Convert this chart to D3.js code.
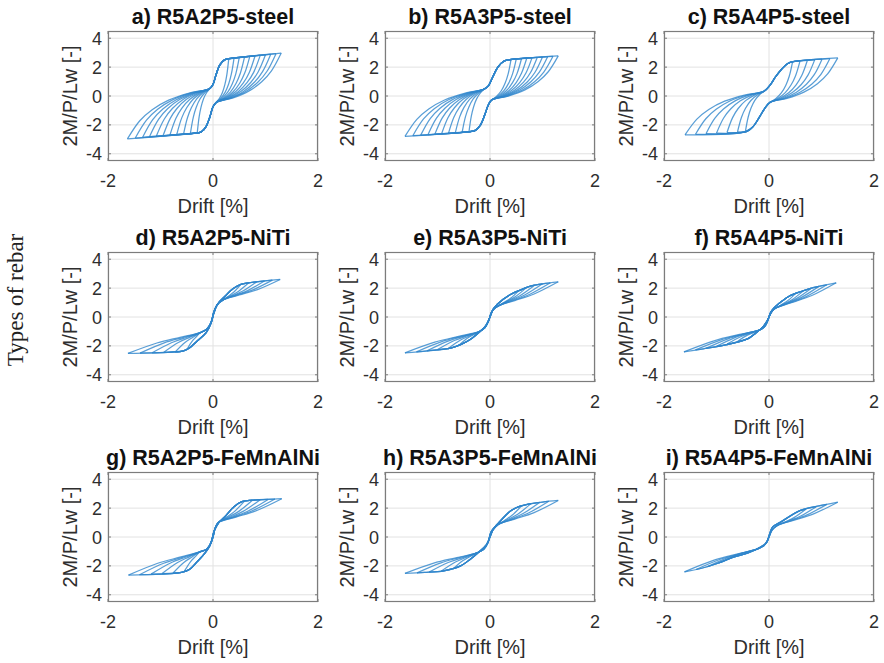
<!DOCTYPE html>
<html><head><meta charset="utf-8">
<script src="https://cdn.jsdelivr.net/npm/d3@7"></script>
<style>body{margin:0;background:#fff}svg{display:block}</style>
</head><body>
<svg id="chart" width="884" height="663"></svg>
<script>
// ---------- labels / ticks ----------
const titles = ["a) R5A2P5-steel","b) R5A3P5-steel","c) R5A4P5-steel",
                "d) R5A2P5-NiTi","e) R5A3P5-NiTi","f) R5A4P5-NiTi",
                "g) R5A2P5-FeMnAlNi","h) R5A3P5-FeMnAlNi","i) R5A4P5-FeMnAlNi"];
const xTicks = [-2, 0, 2];
const yTicks = [-4, -2, 0, 2, 4];
const xDomain = [-2, 2];
const yDomain = [-4.5, 4.5];
const xLabel = "Drift [%]";
const yLabel = "2M/P/Lw [-]";
const rowLabel = "Types of rebar";

// ---------- return-branch shapes (normalised, read from outer loops) ----------
const steelReturn = [[0,0],[0.15,0.36],[0.3,0.58],[0.5,0.77],[0.75,0.91],[1,1]];
const flagReturn  = [[0,0],[0.4,0.5],[0.72,0.77],[1,1]];

// ---------- a) R5A2P5-steel ----------
const aPosDrift  = [0.30,0.40,0.50,0.60,0.70,0.80,0.90,1.00,1.10,1.20,1.30];
const aPosMoment = [2.57,2.61,2.65,2.69,2.73,2.77,2.81,2.85,2.89,2.93,2.97];
const aNegDrift  = [-0.30,-0.43,-0.56,-0.69,-0.82,-0.95,-1.08,-1.21,-1.34,-1.48,-1.63];
const aNegMoment = [-2.55,-2.58,-2.62,-2.66,-2.70,-2.74,-2.78,-2.82,-2.86,-2.91,-2.97];
const aLoadUp    = [[-0.06,0.52],[0.0,0.8],[0.06,1.5],[0.13,2.15],[0.22,2.5],[0.3,2.58],[1.3,2.97]];
const aLoadDown  = [[0.06,-0.45],[0.0,-0.75],[-0.06,-1.45],[-0.13,-2.1],[-0.22,-2.48],[-0.3,-2.56],[-1.63,-2.97]];

// ---------- b) R5A3P5-steel ----------
const bPosDrift  = [0.40,0.50,0.60,0.70,0.80,0.90,1.00,1.10,1.20,1.30];
const bPosMoment = [2.52,2.55,2.58,2.61,2.64,2.67,2.70,2.73,2.75,2.78];
const bNegDrift  = [-0.40,-0.53,-0.66,-0.79,-0.92,-1.05,-1.18,-1.32,-1.47,-1.62];
const bNegMoment = [-2.47,-2.50,-2.53,-2.57,-2.60,-2.64,-2.67,-2.71,-2.75,-2.80];
const bLoadUp    = [[-0.11,0.48],[-0.03,0.7],[0.05,1.3],[0.15,2.0],[0.27,2.42],[0.38,2.52],[1.3,2.78]];
const bLoadDown  = [[0.03,-0.28],[-0.03,-0.6],[-0.1,-1.3],[-0.18,-2.0],[-0.28,-2.38],[-0.38,-2.46],[-1.62,-2.8]];

// ---------- c) R5A4P5-steel ----------
const cPosDrift  = [0.45,0.59,0.73,0.87,1.01,1.16,1.31];
const cPosMoment = [2.38,2.42,2.46,2.50,2.55,2.59,2.64];
const cNegDrift  = [-0.45,-0.60,-0.80,-1.00,-1.20,-1.40,-1.60];
const cNegMoment = [-2.46,-2.49,-2.53,-2.57,-2.61,-2.65,-2.69];
const cLoadUp    = [[-0.09,0.34],[0.02,0.75],[0.12,1.3],[0.24,1.85],[0.36,2.25],[0.46,2.38],[1.31,2.64]];
const cLoadDown  = [[0.02,-0.44],[-0.08,-0.85],[-0.18,-1.45],[-0.3,-2.1],[-0.42,-2.45],[-1.6,-2.69]];

// ---------- d) R5A2P5-NiTi ----------
const dPosDrift  = [0.53,0.68,0.83,0.98,1.13,1.28];
const dPosMoment = [2.26,2.37,2.43,2.49,2.55,2.60];
const dNegDrift  = [-0.50,-0.72,-0.94,-1.16,-1.39,-1.62];
const dNegMoment = [-2.27,-2.42,-2.45,-2.48,-2.50,-2.52];
const dLoadUp    = [[-0.24,-1.08],[-0.12,-0.85],[-0.04,-0.4],[0.02,0.4],[0.1,0.95],[0.22,1.4],[0.38,1.95],[0.52,2.25],[0.65,2.35],[1.28,2.6]];
const dLoadDown  = [[0.2,1.2],[0.08,0.85],[0.02,0.3],[-0.04,-0.45],[-0.13,-1.08],[-0.3,-1.66],[-0.45,-2.15],[-0.56,-2.34],[-0.8,-2.43],[-1.62,-2.52]];

// ---------- e) R5A3P5-NiTi ----------
const ePosDrift  = [0.55,0.70,0.85,1.00,1.15,1.30];
const ePosMoment = [1.83,2.05,2.20,2.30,2.37,2.44];
const eNegDrift  = [-0.60,-0.80,-1.00,-1.20,-1.40,-1.62];
const eNegMoment = [-1.98,-2.19,-2.26,-2.34,-2.41,-2.48];
const eLoadUp    = [[-0.2,-1.0],[-0.1,-0.75],[-0.03,-0.3],[0.03,0.35],[0.14,0.88],[0.39,1.56],[0.6,1.9],[0.77,2.14],[1.0,2.3],[1.3,2.44]];
const eLoadDown  = [[0.15,0.75],[0.06,0.5],[0.0,0.0],[-0.08,-0.6],[-0.18,-0.97],[-0.37,-1.54],[-0.55,-1.9],[-0.75,-2.16],[-1.19,-2.34],[-1.62,-2.48]];

// ---------- f) R5A4P5-NiTi ----------
const fPosDrift  = [0.50,0.65,0.80,0.95,1.10,1.28];
const fPosMoment = [1.60,1.79,1.98,2.12,2.23,2.37];
const fNegDrift  = [-0.60,-0.80,-1.00,-1.20,-1.40,-1.62];
const fNegMoment = [-1.70,-1.88,-2.03,-2.17,-2.28,-2.41];
const fLoadUp    = [[-0.15,-0.85],[-0.07,-0.6],[-0.02,-0.2],[0.03,0.3],[0.1,0.64],[0.25,1.1],[0.39,1.45],[0.6,1.75],[0.84,2.03],[1.28,2.37]];
const fLoadDown  = [[0.12,0.6],[0.05,0.35],[0.0,0.0],[-0.05,-0.35],[-0.12,-0.7],[-0.25,-1.1],[-0.4,-1.5],[-0.85,-1.95],[-1.25,-2.2],[-1.62,-2.41]];

// ---------- g) R5A2P5-FeMnAlNi ----------
const gPosDrift  = [0.60,0.75,0.90,1.05,1.18,1.31];
const gPosMoment = [2.48,2.55,2.58,2.60,2.63,2.65];
const gNegDrift  = [-0.55,-0.76,-0.97,-1.18,-1.40,-1.61];
const gNegMoment = [-2.40,-2.49,-2.53,-2.57,-2.61,-2.64];
const gLoadUp    = [[-0.25,-1.03],[-0.12,-0.85],[-0.04,-0.4],[0.02,0.4],[0.1,0.95],[0.25,1.5],[0.4,2.1],[0.55,2.45],[0.7,2.53],[1.31,2.65]];
const gLoadDown  = [[0.1,1.0],[0.04,0.6],[0.0,0.0],[-0.06,-0.6],[-0.15,-1.1],[-0.3,-1.7],[-0.45,-2.25],[-0.6,-2.45],[-1.61,-2.64]];

// ---------- h) R5A3P5-FeMnAlNi ----------
const hPosDrift  = [0.60,0.78,0.95,1.12,1.30];
const hPosMoment = [2.15,2.31,2.40,2.47,2.53];
const hNegDrift  = [-0.70,-0.93,-1.16,-1.39,-1.62];
const hNegMoment = [-2.20,-2.37,-2.43,-2.48,-2.52];
const hLoadUp    = [[-0.25,-1.1],[-0.12,-0.85],[-0.04,-0.4],[0.02,0.35],[0.14,0.88],[0.39,1.8],[0.55,2.1],[0.71,2.26],[1.0,2.42],[1.3,2.53]];
const hLoadDown  = [[0.15,0.85],[0.06,0.5],[0.0,0.0],[-0.07,-0.55],[-0.2,-1.0],[-0.38,-1.55],[-0.56,-2.0],[-0.88,-2.34],[-1.25,-2.45],[-1.62,-2.52]];

// ---------- i) R5A4P5-FeMnAlNi ----------
const iPosDrift  = [0.70,0.90,1.10,1.31];
const iPosMoment = [1.92,2.10,2.26,2.41];
const iNegDrift  = [-0.95,-1.17,-1.39,-1.61];
const iNegMoment = [-1.80,-2.05,-2.25,-2.41];
const iLoadUp    = [[-0.2,-0.8],[-0.1,-0.6],[-0.03,-0.25],[0.02,0.3],[0.07,0.7],[0.22,1.03],[0.6,1.84],[0.95,2.15],[1.31,2.41]];
const iLoadDown  = [[0.16,0.8],[0.06,0.5],[0.0,0.0],[-0.05,-0.4],[-0.16,-0.69],[-0.4,-1.1],[-0.66,-1.38],[-1.0,-1.85],[-1.3,-2.18],[-1.61,-2.41]];

// ---------- table built from the arrays ----------
const panels = [
  [aPosDrift,aPosMoment,aNegDrift,aNegMoment,aLoadUp,aLoadDown,steelReturn],
  [bPosDrift,bPosMoment,bNegDrift,bNegMoment,bLoadUp,bLoadDown,steelReturn],
  [cPosDrift,cPosMoment,cNegDrift,cNegMoment,cLoadUp,cLoadDown,steelReturn],
  [dPosDrift,dPosMoment,dNegDrift,dNegMoment,dLoadUp,dLoadDown,flagReturn],
  [ePosDrift,ePosMoment,eNegDrift,eNegMoment,eLoadUp,eLoadDown,flagReturn],
  [fPosDrift,fPosMoment,fNegDrift,fNegMoment,fLoadUp,fLoadDown,flagReturn],
  [gPosDrift,gPosMoment,gNegDrift,gNegMoment,gLoadUp,gLoadDown,flagReturn],
  [hPosDrift,hPosMoment,hNegDrift,hNegMoment,hLoadUp,hLoadDown,flagReturn],
  [iPosDrift,iPosMoment,iNegDrift,iNegMoment,iLoadUp,iLoadDown,flagReturn]
].map((p, i) => ({title: titles[i], posDrift:p[0], posMoment:p[1], negDrift:p[2], negMoment:p[3], loadUp:p[4], loadDown:p[5], ret:p[6]}));

// ---------- layout ----------
const colX = [108, 385, 664];
const rowY = [31, 252, 472];
const W = 210, H = 130;
const sans = "'Liberation Sans', Arial, Helvetica, sans-serif";
const lineColor = "#2f86cc";
const axisColor = "#7c7c7c";
const gridColor = "#e2e2e2";
const textColor = "#2e2e2e";

const svg = d3.select("#chart");
const defs = svg.append("defs");

const curve = d3.line().curve(d3.curveCatmullRom.alpha(0.5));

panels.forEach((p, i) => {
  const col = i % 3, row = Math.floor(i / 3);
  const x = d3.scaleLinear().domain(xDomain).range([colX[col], colX[col] + W]);
  const y = d3.scaleLinear().domain(yDomain).range([rowY[row] + H, rowY[row]]);
  const g = svg.append("g");

  defs.append("clipPath").attr("id", "clip" + i)
    .append("rect").attr("x", x(xDomain[0])).attr("y", y(yDomain[1]))
    .attr("width", x(xDomain[1]) - x(xDomain[0])).attr("height", y(yDomain[0]) - y(yDomain[1]));

  // grid
  g.append("g").selectAll("line").data(yTicks).join("line")
    .attr("x1", x(xDomain[0])).attr("x2", x(xDomain[1]))
    .attr("y1", d => y(d)).attr("y2", d => y(d))
    .attr("stroke", gridColor).attr("stroke-width", 1);
  g.append("g").selectAll("line").data(xTicks).join("line")
    .attr("y1", y(yDomain[0])).attr("y2", y(yDomain[1]))
    .attr("x1", d => x(d)).attr("x2", d => x(d))
    .attr("stroke", gridColor).attr("stroke-width", 1);

  // hysteresis loops
  const lg = g.append("g").attr("clip-path", `url(#clip${i})`)
    .attr("fill", "none").attr("stroke", lineColor).attr("stroke-width", 1.25)
    .attr("stroke-opacity", 0.8).attr("stroke-linejoin", "round");
  const P1 = p.loadUp[0], P2 = p.loadDown[0];
  p.posDrift.forEach((xp, k) => {
    const yp = p.posMoment[k], xn = p.negDrift[k], yn = p.negMoment[k];
    // from negative peak back up to positive peak
    const up = p.ret.map(([u, v]) => [xn + u * (P1[0] - xn), yn + v * (P1[1] - yn)])
      .concat(p.loadUp.slice(1).filter(d => d[0] > P1[0] && d[0] < xp - 0.04))
      .concat([[xp, yp]]);
    // from positive peak back down to negative peak
    const down = p.ret.map(([u, v]) => [xp + u * (P2[0] - xp), yp + v * (P2[1] - yp)])
      .concat(p.loadDown.slice(1).filter(d => d[0] < P2[0] && d[0] > xn + 0.04))
      .concat([[xn, yn]]);
    [up, down].forEach(seg => {
      lg.append("path").attr("d", curve(seg.map(d => [x(d[0]), y(d[1])])));
    });
  });

  // box
  g.append("rect").attr("x", x(xDomain[0]) + 0.5).attr("y", y(yDomain[1]) + 0.5)
    .attr("width", W - 1).attr("height", H - 1)
    .attr("fill", "none").attr("stroke", axisColor).attr("stroke-width", 1.2);

  // ticks (inside, all four sides)
  const tl = 3;
  const tg = g.append("g").attr("stroke", axisColor).attr("stroke-width", 1);
  xTicks.forEach(t => {
    tg.append("line").attr("x1", x(t)).attr("x2", x(t)).attr("y1", y(yDomain[0])).attr("y2", y(yDomain[0]) - tl);
    tg.append("line").attr("x1", x(t)).attr("x2", x(t)).attr("y1", y(yDomain[1])).attr("y2", y(yDomain[1]) + tl);
  });
  yTicks.forEach(t => {
    tg.append("line").attr("y1", y(t)).attr("y2", y(t)).attr("x1", x(xDomain[0])).attr("x2", x(xDomain[0]) + tl);
    tg.append("line").attr("y1", y(t)).attr("y2", y(t)).attr("x1", x(xDomain[1])).attr("x2", x(xDomain[1]) - tl);
  });

  // tick labels
  g.append("g").selectAll("text").data(yTicks).join("text")
    .attr("x", x(xDomain[0]) - 6).attr("y", d => y(d) + 6.5)
    .attr("text-anchor", "end").attr("font-family", sans).attr("font-size", 18)
    .attr("fill", textColor).text(d => d);
  g.append("g").selectAll("text").data(xTicks).join("text")
    .attr("x", d => x(d)).attr("y", y(yDomain[0]) + 26)
    .attr("text-anchor", "middle").attr("font-family", sans).attr("font-size", 18)
    .attr("fill", textColor).text(d => d);

  // axis labels
  const cx = (x(xDomain[0]) + x(xDomain[1])) / 2;
  const cy = (y(yDomain[0]) + y(yDomain[1])) / 2;
  g.append("text").attr("x", cx).attr("y", y(yDomain[0]) + 52)
    .attr("text-anchor", "middle").attr("font-family", sans).attr("font-size", 20)
    .attr("fill", textColor).text(xLabel);
  g.append("text").attr("transform", `translate(${x(xDomain[0]) - 31},${cy}) rotate(-90)`)
    .attr("text-anchor", "middle").attr("font-family", sans).attr("font-size", 20)
    .attr("fill", textColor).text(yLabel);

  // title
  g.append("text").attr("x", cx).attr("y", y(yDomain[1]) - 7)
    .attr("text-anchor", "middle").attr("font-family", sans).attr("font-size", 21.5)
    .attr("font-weight", "bold").attr("fill", "#111").text(p.title);
});

// row label
svg.append("text").attr("transform", "translate(23,300) rotate(-90)")
  .attr("text-anchor", "middle").attr("font-family", "'Liberation Serif', 'Times New Roman', serif")
  .attr("font-size", 23).attr("fill", "#222").text(rowLabel);
</script>
</body></html>
